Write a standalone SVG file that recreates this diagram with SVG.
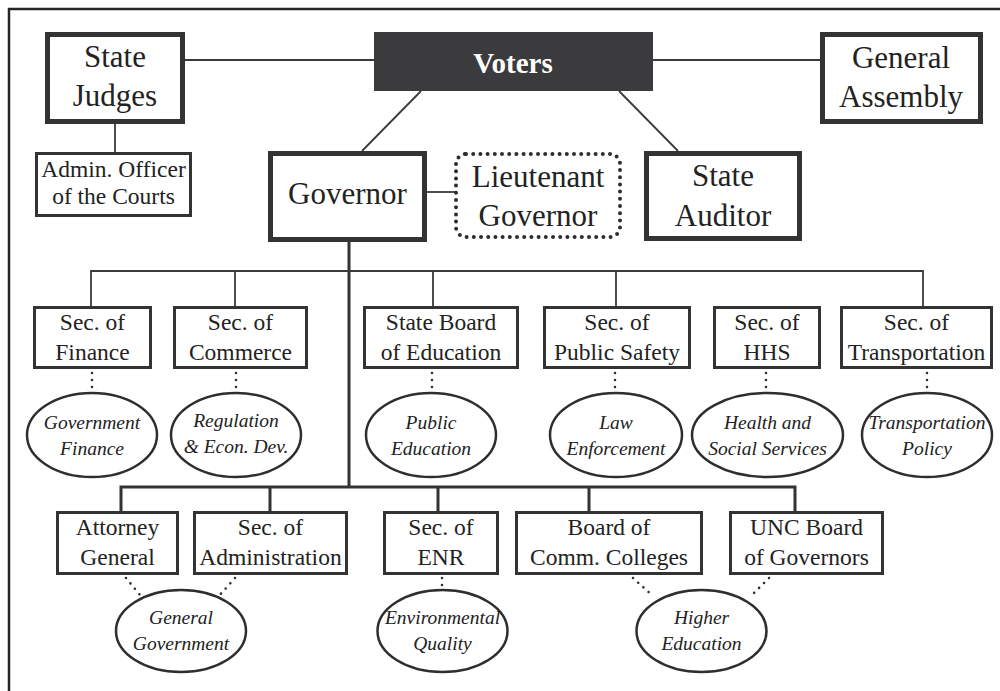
<svg xmlns="http://www.w3.org/2000/svg" width="1000" height="691" viewBox="0 0 1000 691">
<style>
.bg{fill:#fff}
.frame{fill:none;stroke:#262626;stroke-width:2.5}
.thick{fill:#fff;stroke:#333;stroke-width:5}
.med{fill:#fff;stroke:#333;stroke-width:3}
.ell{fill:#fff;stroke:#2e2e2e;stroke-width:2.5}
.dotbox{fill:#fff;stroke:#2e2e2e;stroke-width:4;stroke-dasharray:0 7.2;stroke-linecap:round}
.ln{fill:none;stroke:#3a3a3a;stroke-width:1.8}
.ln3{fill:none;stroke:#333;stroke-width:3}
.dot{fill:none;stroke:#2e2e2e;stroke-width:2.6;stroke-dasharray:0 7;stroke-linecap:round}
text{font-family:"Liberation Serif","Times New Roman",serif;fill:#222;text-anchor:middle}
.lg{font-size:31px}
.md{font-size:23.5px}
.it{font-size:19.5px;font-style:italic}
.vt{font-size:29px;font-weight:bold;fill:#fff}
</style>
<rect class="bg" x="0" y="0" width="1000" height="691"/>
<path class="frame" d="M9 691 V9 H1000"/>

<g id="connectors">
<line class="ln" x1="185" y1="60" x2="374" y2="60"/>
<line class="ln" x1="653" y1="60" x2="820" y2="60"/>
<line class="ln" x1="115" y1="124" x2="115" y2="152"/>
<line class="ln" x1="421" y1="91" x2="362" y2="151"/>
<line class="ln" x1="619" y1="91" x2="678" y2="151"/>
<line class="ln" x1="427" y1="192" x2="456" y2="192"/>
<line class="ln3" x1="349" y1="242" x2="349" y2="488"/>
<path class="ln" d="M91 306 V271 H923 V306 M235 271 V306 M433 271 V306 M616 271 V306"/>
<path class="ln3" d="M121 511 V487 H795 V511 M270 487 V511 M438 487 V511 M589 487 V511"/>
<line class="dot" x1="92" y1="373" x2="92" y2="392"/>
<line class="dot" x1="236" y1="373" x2="236" y2="392"/>
<line class="dot" x1="432" y1="373" x2="432" y2="392"/>
<line class="dot" x1="615" y1="373" x2="615" y2="392"/>
<line class="dot" x1="766" y1="373" x2="766" y2="392"/>
<line class="dot" x1="927" y1="373" x2="927" y2="392"/>
<line class="dot" x1="126" y1="578" x2="140" y2="595"/>
<line class="dot" x1="235" y1="578" x2="218" y2="597"/>
<line class="dot" x1="442" y1="578" x2="442" y2="590"/>
<line class="dot" x1="633" y1="578" x2="653" y2="596"/>
<line class="dot" x1="769" y1="578" x2="750" y2="597"/>
</g>

<g id="voters"><rect x="374" y="32" width="279" height="59" fill="#3b3a3c"/><text class="vt" x="513" y="73">Voters</text></g>
<g id="state-judges"><rect class="thick" x="47.5" y="34.5" width="135" height="87"/><text class="lg" x="115" y="67">State</text><text class="lg" x="115" y="106">Judges</text></g>
<g id="general-assembly"><rect class="thick" x="822.5" y="34.5" width="158" height="87"/><text class="lg" x="901" y="68">General</text><text class="lg" x="901" y="107">Assembly</text></g>
<g id="admin-officer"><rect class="med" x="36.5" y="153.5" width="154" height="62"/><text class="md" x="113.5" y="177">Admin. Officer</text><text class="md" x="113.5" y="204">of the Courts</text></g>
<g id="governor"><rect class="thick" x="270.5" y="153.5" width="154" height="86"/><text class="lg" x="347.5" y="204">Governor</text></g>
<g id="lieutenant-governor"><rect class="dotbox" x="456" y="154" width="164" height="83" rx="10"/><text class="lg" x="538" y="187">Lieutenant</text><text class="lg" x="538" y="226">Governor</text></g>
<g id="state-auditor"><rect class="thick" x="646.5" y="153.5" width="153" height="85"/><text class="lg" x="723" y="186">State</text><text class="lg" x="723" y="226">Auditor</text></g>

<g id="sec-finance"><rect class="med" x="34.5" y="307.5" width="116" height="60"/><text class="md" x="92.5" y="330">Sec. of</text><text class="md" x="92.5" y="360">Finance</text></g>
<g id="sec-commerce"><rect class="med" x="174.5" y="307.5" width="132" height="60"/><text class="md" x="240.5" y="330">Sec. of</text><text class="md" x="240.5" y="360">Commerce</text></g>
<g id="state-board-education"><rect class="med" x="364.5" y="307.5" width="153" height="60"/><text class="md" x="441" y="330">State Board</text><text class="md" x="441" y="360">of Education</text></g>
<g id="sec-public-safety"><rect class="med" x="544.5" y="307.5" width="145" height="60"/><text class="md" x="617" y="330">Sec. of</text><text class="md" x="617" y="360">Public Safety</text></g>
<g id="sec-hhs"><rect class="med" x="714.5" y="307.5" width="105" height="60"/><text class="md" x="767" y="330">Sec. of</text><text class="md" x="767" y="360">HHS</text></g>
<g id="sec-transportation"><rect class="med" x="841.5" y="307.5" width="150" height="60"/><text class="md" x="916.5" y="330">Sec. of</text><text class="md" x="916.5" y="360">Transportation</text></g>

<g id="government-finance"><ellipse class="ell" cx="92" cy="435" rx="65" ry="42"/><text class="it" x="92" y="429">Government</text><text class="it" x="92" y="455">Finance</text></g>
<g id="regulation"><ellipse class="ell" cx="236" cy="435" rx="65" ry="42"/><text class="it" x="236" y="427">Regulation</text><text class="it" x="236" y="453">&amp; Econ. Dev.</text></g>
<g id="public-education"><ellipse class="ell" cx="431" cy="435" rx="65" ry="42"/><text class="it" x="431" y="429">Public</text><text class="it" x="431" y="455">Education</text></g>
<g id="law-enforcement"><ellipse class="ell" cx="616" cy="435" rx="66" ry="42"/><text class="it" x="616" y="429">Law</text><text class="it" x="616" y="455">Enforcement</text></g>
<g id="health-social"><ellipse class="ell" cx="767.5" cy="435" rx="75.5" ry="42"/><text class="it" x="767.5" y="429">Health and</text><text class="it" x="767.5" y="455">Social Services</text></g>
<g id="transportation-policy"><ellipse class="ell" cx="927" cy="435" rx="65" ry="42"/><text class="it" x="927" y="429">Transportation</text><text class="it" x="927" y="455">Policy</text></g>

<g id="attorney-general"><rect class="med" x="57.5" y="512.5" width="120" height="61"/><text class="md" x="117.5" y="535">Attorney</text><text class="md" x="117.5" y="565">General</text></g>
<g id="sec-administration"><rect class="med" x="194.5" y="512.5" width="152" height="61"/><text class="md" x="270.5" y="535">Sec. of</text><text class="md" x="270.5" y="565">Administration</text></g>
<g id="sec-enr"><rect class="med" x="384.5" y="512.5" width="113" height="61"/><text class="md" x="441" y="535">Sec. of</text><text class="md" x="441" y="565">ENR</text></g>
<g id="board-comm-colleges"><rect class="med" x="516.5" y="512.5" width="185" height="61"/><text class="md" x="609" y="535">Board of</text><text class="md" x="609" y="565">Comm. Colleges</text></g>
<g id="unc-board"><rect class="med" x="730.5" y="512.5" width="152" height="61"/><text class="md" x="806.5" y="535">UNC Board</text><text class="md" x="806.5" y="565">of Governors</text></g>

<g id="general-government"><ellipse class="ell" cx="181" cy="631" rx="65" ry="41"/><text class="it" x="181" y="624">General</text><text class="it" x="181" y="650">Government</text></g>
<g id="environmental-quality"><ellipse class="ell" cx="442.5" cy="631" rx="65" ry="41"/><text class="it" x="442.5" y="624">Environmental</text><text class="it" x="442.5" y="650">Quality</text></g>
<g id="higher-education"><ellipse class="ell" cx="701.5" cy="631" rx="65" ry="41"/><text class="it" x="701.5" y="624">Higher</text><text class="it" x="701.5" y="650">Education</text></g>
</svg>
